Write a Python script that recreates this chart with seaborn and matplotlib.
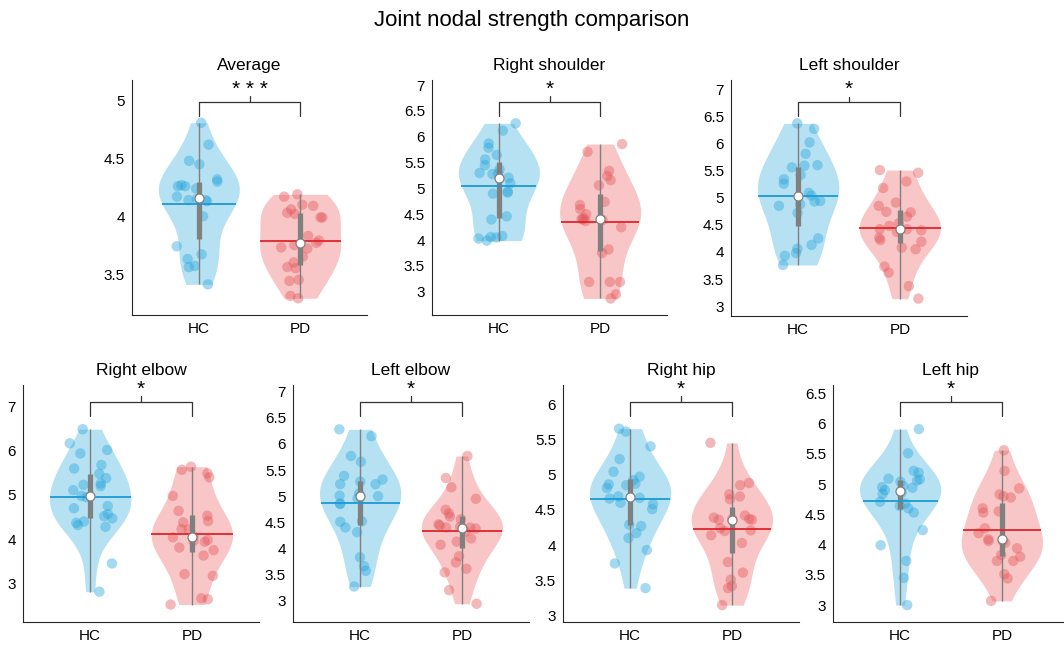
"""
Joint nodal strength comparison: HC vs PD violin plots
"""
import numpy as np
import pandas as pd
import matplotlib
matplotlib.use("Agg")
import matplotlib.pyplot as plt
import seaborn as sns
from matplotlib.transforms import blended_transform_factory

# data
groups = ["HC", "PD"]
titles = ["Average", "Right shoulder", "Left shoulder",
          "Right elbow", "Left elbow", "Right hip", "Left hip"]
stars = ["***", "*", "*", "*", "*", "*", "*"]

avg_hc = [4.81, 4.62, 4.48, 4.45, 4.32, 4.30, 4.27, 4.26, 4.26, 4.24, 4.17,
          4.15, 4.14, 4.14, 4.13, 4.00, 3.74, 3.67, 3.63, 3.57, 3.56, 3.41]
avg_pd = [4.19, 4.17, 4.10, 4.09, 4.06, 4.03, 4.02, 3.99, 3.99, 3.83, 3.79, 3.77,
          3.75, 3.73, 3.72, 3.65, 3.60, 3.56, 3.55, 3.45, 3.44, 3.31, 3.29]
rsh_hc = [6.26, 6.12, 5.87, 5.79, 5.65, 5.56, 5.45, 5.37, 5.30, 5.29, 5.28, 5.21,
          5.10, 4.94, 4.92, 4.90, 4.46, 4.40, 4.08, 4.06, 4.05, 4.03, 3.99]
rsh_pd = [5.86, 5.71, 5.34, 5.24, 5.16, 5.06, 4.74, 4.68, 4.60, 4.50, 4.42, 4.41,
          4.40, 4.39, 4.37, 4.25, 3.82, 3.75, 3.19, 3.19, 3.19, 2.95, 2.87]
lsh_hc = [6.37, 6.27, 6.02, 5.81, 5.60, 5.59, 5.56, 5.42, 5.34, 5.26, 5.09, 5.04,
          4.94, 4.93, 4.88, 4.85, 4.72, 4.25, 4.13, 4.06, 3.98, 3.93, 3.76]
lsh_pd = [5.51, 5.46, 5.30, 5.18, 4.91, 4.85, 4.74, 4.73, 4.65, 4.53, 4.48, 4.42,
          4.40, 4.37, 4.42, 4.26, 4.22, 4.19, 4.08, 4.05, 3.73, 3.62, 3.37, 3.14]
rel_hc = [6.49, 6.17, 6.02, 5.94, 5.68, 5.60, 5.48, 5.38, 5.26, 5.23, 5.20, 5.11,
          4.98, 4.95, 4.75, 4.70, 4.57, 4.52, 4.47, 4.40, 4.37, 4.32, 4.28, 3.45, 2.81]
rel_pd = [5.64, 5.57, 5.49, 5.40, 4.98, 4.64, 4.53, 4.41, 4.38, 4.23, 4.22, 4.06,
          4.04, 3.98, 3.96, 3.94, 3.81, 3.75, 3.63, 3.21, 3.17, 2.66, 2.64, 2.52]
lel_hc = [6.28, 6.15, 5.77, 5.66, 5.39, 5.32, 5.28, 5.23, 5.23, 5.05, 5.01, 5.00,
          4.96, 4.86, 4.85, 4.52, 4.51, 4.40, 4.31, 3.83, 3.66, 3.57, 3.27]
lel_pd = [5.77, 5.35, 5.17, 4.95, 4.74, 4.67, 4.61, 4.56, 4.46, 4.44, 4.41, 4.40,
          4.40, 4.38, 4.32, 4.19, 4.13, 4.07, 3.85, 3.73, 3.61, 3.54, 3.20, 2.94]
rhip_hc = [5.65, 5.61, 5.40, 5.22, 5.04, 4.97, 4.92, 4.87, 4.86, 4.85, 4.81, 4.69,
           4.67, 4.66, 4.60, 4.58, 4.51, 4.29, 4.27, 4.17, 4.10, 3.93, 3.74, 3.39]
rhip_pd = [5.45, 4.88, 4.85, 4.72, 4.69, 4.65, 4.42, 4.39, 4.37, 4.37, 4.36, 4.36,
           4.24, 4.21, 4.20, 4.14, 4.03, 3.76, 3.61, 3.51, 3.42, 3.39, 3.15]
lhip_hc = [5.91, 5.51, 5.22, 5.19, 5.09, 5.08, 5.06, 5.04, 4.97, 4.95, 4.94, 4.90,
           4.86, 4.84, 4.71, 4.68, 4.64, 4.60, 4.53, 4.24, 3.99, 3.73, 3.45, 3.00]
lhip_pd = [5.56, 5.22, 4.93, 4.83, 4.80, 4.78, 4.60, 4.55, 4.53, 4.27, 4.19, 4.09,
           4.06, 4.06, 4.03, 3.94, 3.83, 3.80, 3.73, 3.73, 3.51, 3.44, 3.07]

hc_sets = [avg_hc, rsh_hc, lsh_hc, rel_hc, lel_hc, rhip_hc, lhip_hc]
pd_sets = [avg_pd, rsh_pd, lsh_pd, rel_pd, lel_pd, rhip_pd, lhip_pd]

# axis ranges / ticks per panel
ylims = [(3.145, 5.18), (2.55, 7.1), (2.82, 7.17), (2.125, 7.49),
         (2.59, 7.13), (2.91, 6.27), (2.72, 6.64)]
yticks = [np.arange(3.5, 5.01, 0.5), np.arange(3, 7.01, 0.5), np.arange(3, 7.01, 0.5),
          np.arange(3, 7.01, 1), np.arange(3, 7.01, 0.5), np.arange(3, 6.01, 0.5),
          np.arange(3, 6.51, 0.5)]

fill_cols = ["#52b9e0", "#f07878"]
dot_cols = ["#2aa6dc", "#e4585b"]
mean_cols = ["#1b9ad6", "#e0262c"]
grey = "#808080"

sns.set_style("white")
plt.rcParams["font.family"] = ["Liberation Sans", "DejaVu Sans"]
plt.rcParams["axes.edgecolor"] = "#262626"
plt.rcParams["text.color"] = "black"

fig = plt.figure(figsize=(10.64, 6.45), dpi=100)
W, H = 1064, 645
# pixel boxes: left, top, width, height
boxes = [(132, 80, 235, 235), (432, 80, 235, 235), (731, 80, 236, 236),
         (23, 385, 236, 237), (293, 385, 236, 237), (563, 385, 236, 237), (833, 385, 236, 237)]
np.random.seed(3)

for i in range(7):
    l, t, w, h = boxes[i]
    ax = fig.add_axes([l / W, 1 - (t + h) / H, w / W, h / H])
    df = pd.DataFrame({
        "group": ["HC"] * len(hc_sets[i]) + ["PD"] * len(pd_sets[i]),
        "value": hc_sets[i] + pd_sets[i],
    })

    sns.violinplot(data=df, x="group", y="value", hue="group", palette=fill_cols,
                   order=groups, hue_order=groups, inner=None, cut=0, width=0.8,
                   density_norm="width", bw_adjust=1.1, linewidth=0, saturation=1,
                   legend=False, ax=ax)
    violins = list(ax.collections)
    for c in violins:
        c.set_alpha(0.42)
        c.set_zorder(1)

    sns.stripplot(data=df, x="group", y="value", hue="group", palette=dot_cols,
                  order=groups, hue_order=groups, jitter=0.23, size=7.5, alpha=0.42,
                  linewidth=0, legend=False, zorder=2, ax=ax)

    # inner stats: range line, IQR bar, mean line, median dot
    for k, vals in enumerate([hc_sets[i], pd_sets[i]]):
        v = np.array(vals)
        q1, med, q3 = np.percentile(v, [25, 50, 75])
        mu = v.mean()
        ax.vlines(k, v.min(), v.max(), color=grey, lw=1, zorder=3)
        ax.vlines(k, q1, q3, color=grey, lw=3.8, zorder=4)
        verts = violins[k].get_paths()[0].vertices
        side = verts[verts[:, 0] > k + 1e-9]
        o = np.argsort(side[:, 1])
        hw = np.interp(mu, side[o, 1], side[o, 0]) - k
        ax.hlines(mu, k - hw, k + hw, color=mean_cols[k], lw=1.3, zorder=5)
        ax.scatter([k], [med], s=42, color="white", edgecolor=grey, linewidth=0.9, zorder=6)

    ax.set_xlim(-0.66, 1.66)
    ax.set_ylim(*ylims[i])
    ax.set_yticks(yticks[i])
    ax.set_yticklabels([f"{y:g}" for y in yticks[i]])
    ax.set_xlabel("")
    ax.set_ylabel("")
    ax.set_title(titles[i], fontsize=12.5, pad=7, color="black")
    ax.tick_params(direction="in", length=3, width=0.8, labelsize=11, pad=5,
                   colors="#262626", labelcolor="black")
    sns.despine(ax=ax)

    # significance bracket
    tr = blended_transform_factory(ax.transData, ax.transAxes)
    yb = 0.908 if i < 3 else 0.93
    ax.plot([0, 0, 1, 1], [yb - 0.06, yb, yb, yb - 0.06], color="#333333", lw=0.9,
            transform=tr, clip_on=False)
    ax.plot([0.5, 0.5], [yb, yb + 0.022], color="#333333", lw=0.9, transform=tr, clip_on=False)
    ax.text(0.5, yb + 0.012, " ".join(stars[i]), transform=tr, ha="center", va="bottom",
            fontsize=15)

fig.suptitle("Joint nodal strength comparison", fontsize=16, y=0.985, color="black")
fig.savefig("out.png", dpi=100)
